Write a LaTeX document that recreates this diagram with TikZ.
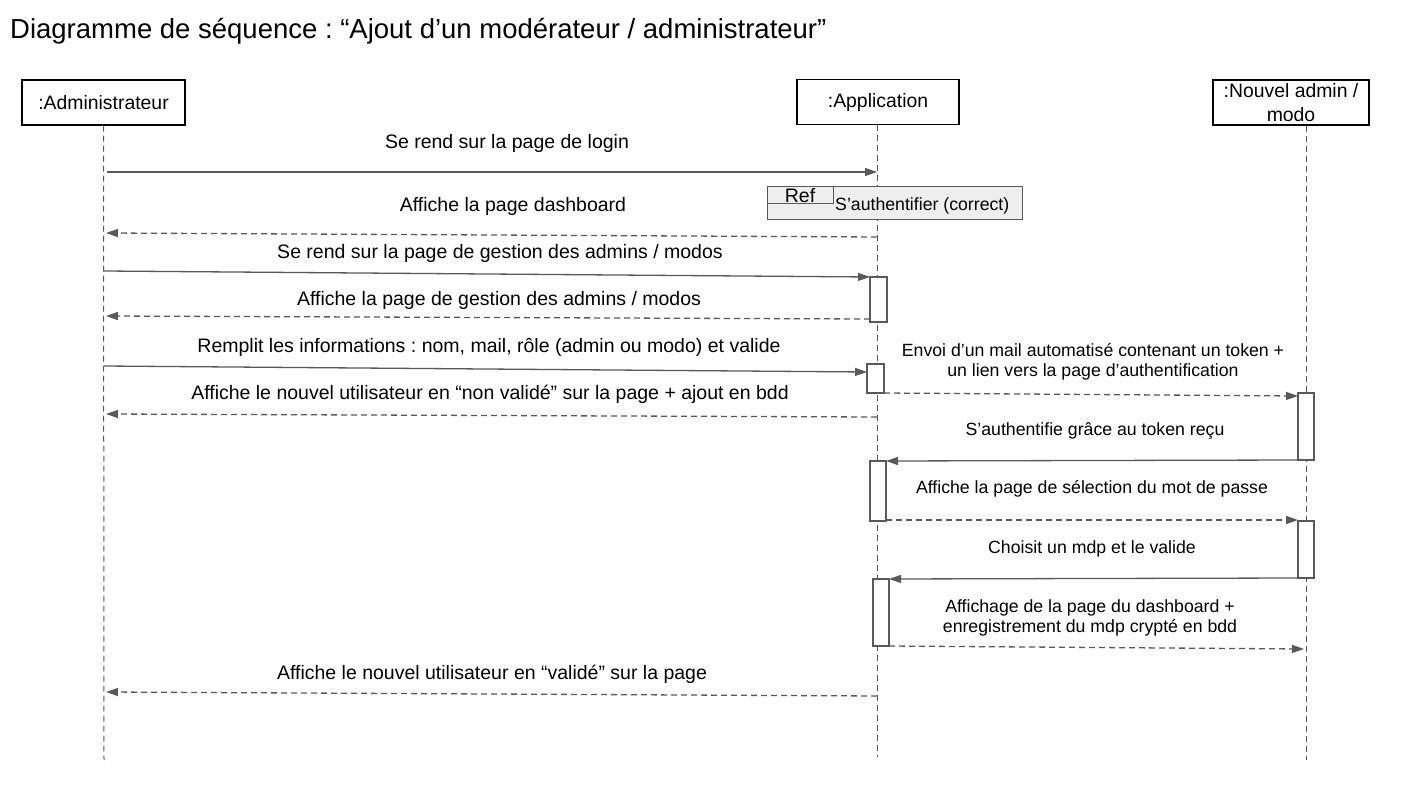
\documentclass[tikz,border=0pt]{standalone}
\usepackage{fontspec}
\setmainfont{Liberation Sans}
\frenchspacing
\usetikzlibrary{arrows.meta}
\definecolor{ln}{HTML}{595959}
\definecolor{reffill}{HTML}{EEEEEE}
\begin{document}
\begin{tikzpicture}[x=1pt,y=-1pt,
  head/.style={draw=black,line width=1.1pt,fill=white,minimum width=163pt,minimum height=45pt,inner sep=2pt,align=center,font=\fontsize{19.4}{24}\selectfont},
  life/.style={draw=ln,line width=1pt,dash pattern=on 6pt off 4pt},
  act/.style={draw=ln,line width=1.2pt,fill=white,minimum width=16pt,inner sep=0pt},
  msg/.style={draw=ln,line width=1.3pt,-{Triangle[length=12pt,width=8pt]}},
  ret/.style={msg,dash pattern=on 6pt off 4pt},
  lbl/.style={font=\fontsize{19.5}{22}\selectfont,inner sep=0pt},
  slbl/.style={font=\fontsize{17.7}{20.5}\selectfont,inner sep=0pt,align=center}]
\useasboundingbox (0,0) rectangle (1407,791);
% title
\node[anchor=west,inner sep=0pt,font=\fontsize{27.5}{30}\selectfont] (title) at (10,31) {Diagramme de séquence : “Ajout d’un modérateur / administrateur”};
% heads
\node[head] (adm) at (103.5,102.5) {:Administrateur};
\node[head,minimum width=162pt] (app) at (878,102) {:Application};
\node[head,minimum width=156pt] (nm) at (1291,102.5) {:Nouvel admin /\\modo};
% lifeline ends
\coordinate (admE) at (104,760);
\coordinate (appE) at (877,757);
\coordinate (nmE) at (1306,760);
\draw[life] (adm.south) -- (admE);
\draw[life] (app.south -| appE) -- (appE);
\draw[life] (nm.south -| nmE) -- (nmE);
% activation boxes
\node[act,minimum width=17pt,minimum height=45pt] (a1) at (878.5,299.5) {};
\node[act,minimum width=17pt,minimum height=29pt] (a2) at (875.5,378.5) {};
\node[act,minimum height=67pt] (b1) at (1306,426.5) {};
\node[act,minimum height=60pt] (a3) at (878,491) {};
\node[act,minimum height=57pt] (b2) at (1306,549.5) {};
\node[act,minimum height=67pt] (a4) at (881,612.5) {};
% message end points
\coordinate (p1s) at (107,172);
\coordinate (p1e) at (877,172);
\coordinate (p2s) at (877,237);
\coordinate (p2e) at (106,233);
\coordinate (p3s) at (104,271);
\coordinate (p3e) at (870,277);
\coordinate (p4s) at (870,319);
\coordinate (p4e) at (106,316);
\coordinate (p5s) at (104,366);
\coordinate (p5e) at (867,372);
\coordinate (p6s) at (884,393);
\coordinate (p6e) at (1298,396);
\coordinate (p7s) at (877,417);
\coordinate (p7e) at (106,414);
\coordinate (p8s) at (1298,460);
\coordinate (p8e) at (886,461);
\coordinate (p9s) at (886,520);
\coordinate (p9e) at (1298,520);
\coordinate (p10s) at (1298,578);
\coordinate (p10e) at (889,579);
\coordinate (p11s) at (889,646);
\coordinate (p11e) at (1304,649);
\coordinate (p12s) at (877,696);
\coordinate (p12e) at (106,692);
% ref frame
\node[draw=ln,line width=1pt,fill=reffill,minimum width=255pt,minimum height=33pt,inner sep=0pt] (ref) at (894.5,203.5) {};
\node[draw=ln,line width=1pt,fill=reffill,minimum width=66pt,minimum height=17pt,inner sep=0pt,anchor=north west,font=\fontsize{19.5}{20}\selectfont] (reftab) at (ref.north west) {\raisebox{-1pt}{Ref}};
\node[anchor=west,inner sep=0pt,font=\fontsize{17.7}{20}\selectfont] (reftxt) at (835,206) {S’authentifier (correct)};
% messages
\draw[msg] (p1s) -- (p1e);
\node[lbl] (l1) at (507,143) {Se rend sur la page de login};
\draw[ret] (p2s) -- (p2e);
\node[lbl] (l2) at (513,206) {Affiche la page dashboard};
\draw[msg] (p3s) -- (p3e);
\node[lbl] (l3) at (500,253) {Se rend sur la page de gestion des admins / modos};
\draw[ret] (p4s) -- (p4e);
\node[lbl] (l4) at (499,300) {Affiche la page de gestion des admins / modos};
\draw[msg] (p5s) -- (p5e);
\node[lbl] (l5) at (489,347) {Remplit les informations : nom, mail, rôle (admin ou modo) et valide};
\draw[ret] (p6s) -- (p6e);
\node[slbl] (l6) at (1093,362) {Envoi d’un mail automatisé contenant un token +\\un lien vers la page d’authentification};
\draw[ret] (p7s) -- (p7e);
\node[lbl] (l7) at (490,394) {Affiche le nouvel utilisateur en “non validé” sur la page + ajout en bdd};
\draw[msg] (p8s) -- (p8e);
\node[slbl] (l8) at (1095,431) {S’authentifie grâce au token reçu};
\draw[ret] (p9s) -- (p9e);
\node[slbl] (l9) at (1092,489) {Affiche la page de sélection du mot de passe};
\draw[msg] (p10s) -- (p10e);
\node[slbl] (l10) at (1092,549) {Choisit un mdp et le valide};
\draw[ret] (p11s) -- (p11e);
\node[slbl] (l11) at (1090,618) {Affichage de la page du dashboard +\\enregistrement du mdp crypté en bdd};
\draw[ret] (p12s) -- (p12e);
\node[lbl] (l12) at (492,674) {Affiche le nouvel utilisateur en “validé” sur la page};
\end{tikzpicture}
\end{document}
